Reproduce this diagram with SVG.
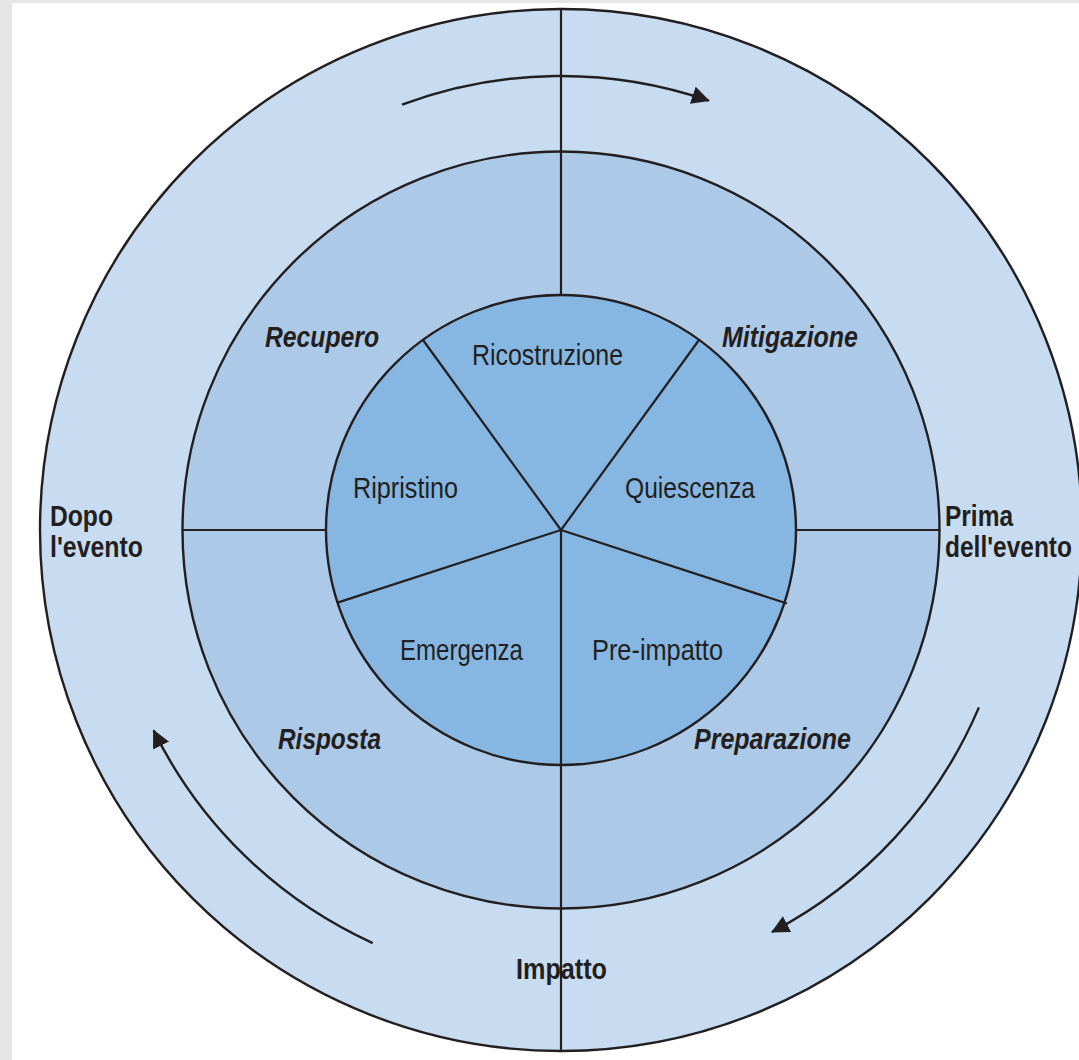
<svg xmlns="http://www.w3.org/2000/svg" width="1079" height="1060" viewBox="0 0 1079 1060">
  <style>
    .ring { stroke: #231f20; stroke-width: 2.4; }
    .div { stroke: #231f20; stroke-width: 2.2; fill: none; }
    .flow { stroke: #231f20; stroke-width: 2.4; fill: none; }
    .lbl { font-family: "Liberation Sans", Arial, sans-serif; fill: #231f20; }
    .inner { font-size: 30px; font-weight: normal; }
    .phase { font-size: 29px; font-weight: bold; font-style: italic; }
    .time { font-size: 29px; font-weight: bold; }
  </style>
  <defs>
    <marker id="head" markerUnits="userSpaceOnUse" markerWidth="20" markerHeight="20" refX="17" refY="9" orient="auto">
      <path d="M0,0 L18,9 L0,18 Z" fill="#231f20"/>
    </marker>
  </defs>

  <!-- page frame -->
  <rect x="0" y="0" width="1079" height="1060" fill="#e6e6e6"/>
  <rect x="12" y="3" width="1067" height="1057" fill="#ffffff"/>

  <!-- concentric rings -->
  <g id="ring-outer"><circle class="ring" cx="561" cy="530" r="521" fill="#c7dcf0"/></g>
  <g id="ring-middle"><circle class="ring" cx="561" cy="530" r="378.5" fill="#adc9e8"/></g>
  <g id="ring-inner"><circle class="ring" cx="561" cy="530" r="235" fill="#85b7e2"/></g>

  <!-- sector dividers -->
  <g id="dividers">
    <line class="div" x1="561" y1="9" x2="561" y2="295"/>
    <line class="div" x1="561" y1="530" x2="561" y2="1051"/>
    <line class="div" x1="182.5" y1="530" x2="326" y2="530"/>
    <line class="div" x1="796" y1="530" x2="939.5" y2="530"/>
    <line class="div" x1="561" y1="530" x2="423" y2="340"/>
    <line class="div" x1="561" y1="530" x2="699" y2="340"/>
    <line class="div" x1="561" y1="530" x2="787" y2="603.5"/>
    <line class="div" x1="561" y1="530" x2="337.5" y2="602.6"/>
  </g>

  <!-- circulation arrows -->
  <g id="connectors">
    <path class="flow" d="M402,104.7 A454,454 0 0 1 708.8,100.7" marker-end="url(#head)"/>
    <path class="flow" d="M978.9,707.4 A454,454 0 0 1 772,932" marker-end="url(#head)"/>
    <path class="flow" d="M372.7,943.1 A454,454 0 0 1 153.6,730.4" marker-end="url(#head)"/>
  </g>

  <!-- inner phases -->
  <g id="ricostruzione"><text class="lbl inner" x="472" y="365" textLength="151" lengthAdjust="spacingAndGlyphs">Ricostruzione</text></g>
  <g id="ripristino"><text class="lbl inner" x="353" y="498" textLength="105" lengthAdjust="spacingAndGlyphs">Ripristino</text></g>
  <g id="quiescenza"><text class="lbl inner" x="625" y="498" textLength="130" lengthAdjust="spacingAndGlyphs">Quiescenza</text></g>
  <g id="emergenza"><text class="lbl inner" x="400" y="660" textLength="123" lengthAdjust="spacingAndGlyphs">Emergenza</text></g>
  <g id="pre-impatto"><text class="lbl inner" x="592" y="660" textLength="131" lengthAdjust="spacingAndGlyphs">Pre-impatto</text></g>

  <!-- management stages -->
  <g id="recupero"><text class="lbl phase" x="265" y="347" textLength="114" lengthAdjust="spacingAndGlyphs">Recupero</text></g>
  <g id="mitigazione"><text class="lbl phase" x="722" y="347" textLength="136" lengthAdjust="spacingAndGlyphs">Mitigazione</text></g>
  <g id="risposta"><text class="lbl phase" x="278" y="749" textLength="103" lengthAdjust="spacingAndGlyphs">Risposta</text></g>
  <g id="preparazione"><text class="lbl phase" x="694" y="749" textLength="157" lengthAdjust="spacingAndGlyphs">Preparazione</text></g>

  <!-- time references -->
  <g id="dopo-evento">
    <text class="lbl time" x="50" y="526" textLength="63" lengthAdjust="spacingAndGlyphs">Dopo</text>
    <text class="lbl time" x="50" y="557" textLength="93" lengthAdjust="spacingAndGlyphs">l'evento</text>
  </g>
  <g id="prima-evento">
    <text class="lbl time" x="945" y="526" textLength="68" lengthAdjust="spacingAndGlyphs">Prima</text>
    <text class="lbl time" x="945" y="557" textLength="127" lengthAdjust="spacingAndGlyphs">dell'evento</text>
  </g>
  <g id="impatto"><text class="lbl time" x="516" y="979" textLength="91" lengthAdjust="spacingAndGlyphs">Impatto</text></g>
</svg>
